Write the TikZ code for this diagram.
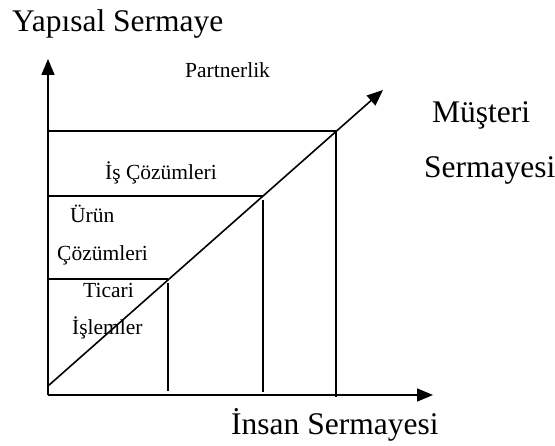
\documentclass[tikz,border=0pt]{standalone}
\usepackage{fontspec}
\setmainfont{Liberation Serif}
\usetikzlibrary{arrows.meta}
\begin{document}
\begin{tikzpicture}[x=1pt,y=-1pt,
  ln/.style={line width=1.6pt,black},
  ax/.style={ln,-{Triangle[length=16pt,width=13pt]}},
  big/.style={inner sep=0pt,anchor=base west,font=\fontsize{31.5}{36}\selectfont},
  small/.style={inner sep=0pt,anchor=base west,font=\fontsize{21.5}{24}\selectfont}]
\useasboundingbox (0,0) rectangle (555,446);
% coordinates
\coordinate (O) at (48,395);
\coordinate (Ytip) at (48,59);
\coordinate (Xtip) at (433,395);
\coordinate (D0) at (48,386);
\coordinate (Dtip) at (383,90);
\coordinate (H1a) at (48,131); \coordinate (H1b) at (336,131);
\coordinate (H2a) at (48,196); \coordinate (H2b) at (263,196);
\coordinate (H3a) at (48,279); \coordinate (H3b) at (168,279);
\coordinate (V1a) at (168,283); \coordinate (V1b) at (168,391);
\coordinate (V2a) at (263,200); \coordinate (V2b) at (263,392);
\coordinate (V3a) at (336,131); \coordinate (V3b) at (336,397);
% axes
\draw[ax] (O) -- (Ytip);
\draw[ax] (O) -- (Xtip);
\draw[ax] (D0) -- (Dtip);
% grid lines
\draw[ln] (H1a) -- (H1b);
\draw[ln] (H2a) -- (H2b);
\draw[ln] (H3a) -- (H3b);
\draw[ln] (V1a) -- (V1b);
\draw[ln] (V2a) -- (V2b);
\draw[ln] (V3a) -- (V3b);
% labels
\node[big] (ys) at (12,32) {Yapısal Sermaye};
\node[small] (pa) at (185,78) {Partnerlik};
\node[big] (mu) at (432,123) {Müşteri};
\node[big] (ms) at (424,178) {Sermayesi};
\node[small] (is) at (105,180) {İş Çözümleri};
\node[small] (ur) at (70,223) {Ürün};
\node[small] (uc) at (57,261) {Çözümleri};
\node[small] (ti) at (83,298) {Ticari};
\node[small] (il) at (72,335) {İşlemler};
\node[big] (in) at (231,435) {İnsan Sermayesi};
\end{tikzpicture}
\end{document}
